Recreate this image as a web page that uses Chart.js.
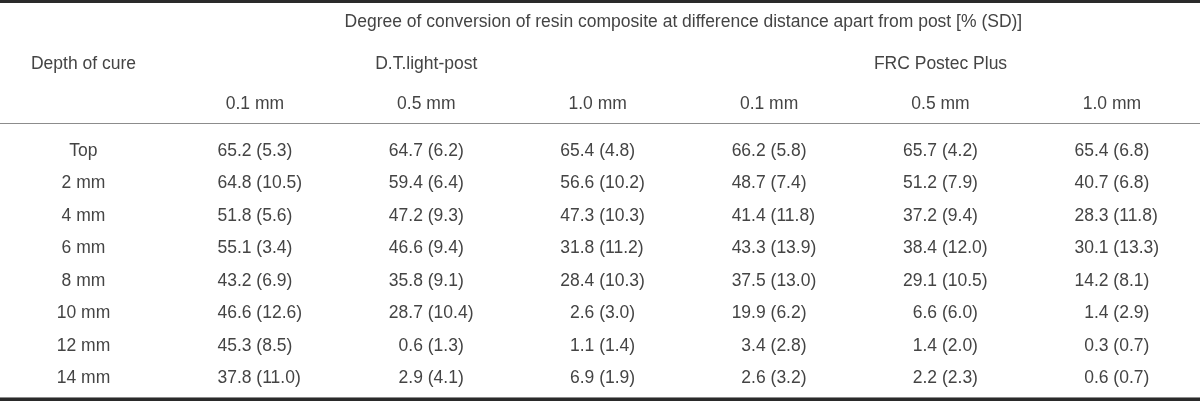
<!DOCTYPE html>
<html>
<head>
<meta charset="utf-8">
<script src="https://cdn.jsdelivr.net/npm/chart.js@4.4.1/dist/chart.umd.min.js"></script>
<style>
  html, body { margin: 0; padding: 0; background: #fff; }
  #wrap { width: 1200px; height: 401px; position: relative; }
</style>
</head>
<body>
<div id="wrap"><canvas id="myChart"></canvas></div>
<script>
// table text
const tableTitle = 'Degree of conversion of resin composite at difference distance apart from post [% (SD)]';
const rowHeader = 'Depth of cure';
const groups = ['D.T.light-post', 'FRC Postec Plus'];
const distances = ['0.1 mm', '0.5 mm', '1.0 mm'];
const depths = ['Top', '2 mm', '4 mm', '6 mm', '8 mm', '10 mm', '12 mm', '14 mm'];

// D.T.light-post, mean and SD per depth
const dtMean01 = [65.2, 64.8, 51.8, 55.1, 43.2, 46.6, 45.3, 37.8];
const dtSd01   = [5.3, 10.5, 5.6, 3.4, 6.9, 12.6, 8.5, 11.0];
const dtMean05 = [64.7, 59.4, 47.2, 46.6, 35.8, 28.7, 0.6, 2.9];
const dtSd05   = [6.2, 6.4, 9.3, 9.4, 9.1, 10.4, 1.3, 4.1];
const dtMean10 = [65.4, 56.6, 47.3, 31.8, 28.4, 2.6, 1.1, 6.9];
const dtSd10   = [4.8, 10.2, 10.3, 11.2, 10.3, 3.0, 1.4, 1.9];

// FRC Postec Plus
const frcMean01 = [66.2, 48.7, 41.4, 43.3, 37.5, 19.9, 3.4, 2.6];
const frcSd01   = [5.8, 7.4, 11.8, 13.9, 13.0, 6.2, 2.8, 3.2];
const frcMean05 = [65.7, 51.2, 37.2, 38.4, 29.1, 6.6, 1.4, 2.2];
const frcSd05   = [4.2, 7.9, 9.4, 12.0, 10.5, 6.0, 2.0, 2.3];
const frcMean10 = [65.4, 40.7, 28.3, 30.1, 14.2, 1.4, 0.3, 0.6];
const frcSd10   = [6.8, 6.8, 11.8, 13.3, 8.1, 2.9, 0.7, 0.7];

const columns = [
  [dtMean01, dtSd01], [dtMean05, dtSd05], [dtMean10, dtSd10],
  [frcMean01, frcSd01], [frcMean05, frcSd05], [frcMean10, frcSd10]
];

const FONT = '17.5px "Liberation Sans", Arial, sans-serif';
const INK = '#444';

// one dataset per table column, each cell is a point
const datasets = columns.map((c, ci) => ({
  means: c[0],
  sds: c[1],
  data: depths.map((d, ri) => ({ x: ci + 1, y: ri })),
  pointRadius: 0,
  showLine: false
}));

const tablePlugin = {
  id: 'tableText',
  afterDatasetsDraw(chart) {
    const ctx = chart.ctx;
    const xs = chart.scales.x;
    const ys = chart.scales.y;
    const area = chart.chartArea;
    const W = chart.width;
    ctx.save();

    // rules
    ctx.fillStyle = '#2a2a2a';
    ctx.fillRect(0, 0, W, 3);
    ctx.fillRect(0, area.bottom, W, 3);
    ctx.fillStyle = '#8c8c8c';
    ctx.fillRect(0, area.top - 1, W, 1);
    ctx.fillRect(0, area.bottom - 1, W, 1);

    ctx.font = FONT;
    ctx.fillStyle = INK;
    ctx.textBaseline = 'middle';
    ctx.textAlign = 'center';

    // header
    const titleX = (xs.getPixelForValue(1) + xs.getPixelForValue(6)) / 2;
    ctx.fillText(tableTitle, titleX, area.top - 102);
    ctx.fillText(rowHeader, xs.getPixelForValue(0), area.top - 60);
    ctx.fillText(groups[0], xs.getPixelForValue(2), area.top - 60);
    ctx.fillText(groups[1], xs.getPixelForValue(5), area.top - 60);
    for (let i = 0; i < 6; i++) {
      ctx.fillText(distances[i % 3], xs.getPixelForValue(i + 1), area.top - 20);
    }

    // row labels
    depths.forEach((d, ri) => {
      ctx.fillText(d, xs.getPixelForValue(0), ys.getPixelForValue(ri));
    });

    // cells, aligned on the decimal point
    const ref = ctx.measureText('00.0 (0.0)').width;
    const intW = ctx.measureText('00').width;
    chart.data.datasets.forEach((ds, di) => {
      const meta = chart.getDatasetMeta(di);
      meta.data.forEach((pt, ri) => {
        const m = ds.means[ri].toFixed(1);
        const s = ds.sds[ri].toFixed(1);
        const dot = m.indexOf('.');
        const anchor = pt.x - ref / 2 + intW;
        ctx.textAlign = 'right';
        ctx.fillText(m.slice(0, dot), anchor, pt.y);
        ctx.textAlign = 'left';
        ctx.fillText(m.slice(dot) + ' (' + s + ')', anchor, pt.y);
      });
    });
    ctx.restore();
  }
};

const ctx = document.getElementById('myChart');
new Chart(ctx, {
  type: 'scatter',
  data: { datasets: datasets },
  options: {
    responsive: true,
    maintainAspectRatio: false,
    animation: false,
    layout: { padding: { top: 124, bottom: 3, left: 0, right: 0 } },
    scales: {
      x: { type: 'linear', min: -0.487, max: 6.514, display: false },
      y: { type: 'linear', min: -0.83, max: 7.61, reverse: true, display: false }
    },
    plugins: {
      legend: { display: false },
      tooltip: { enabled: false }
    }
  },
  plugins: [tablePlugin]
});
</script>
</body>
</html>
